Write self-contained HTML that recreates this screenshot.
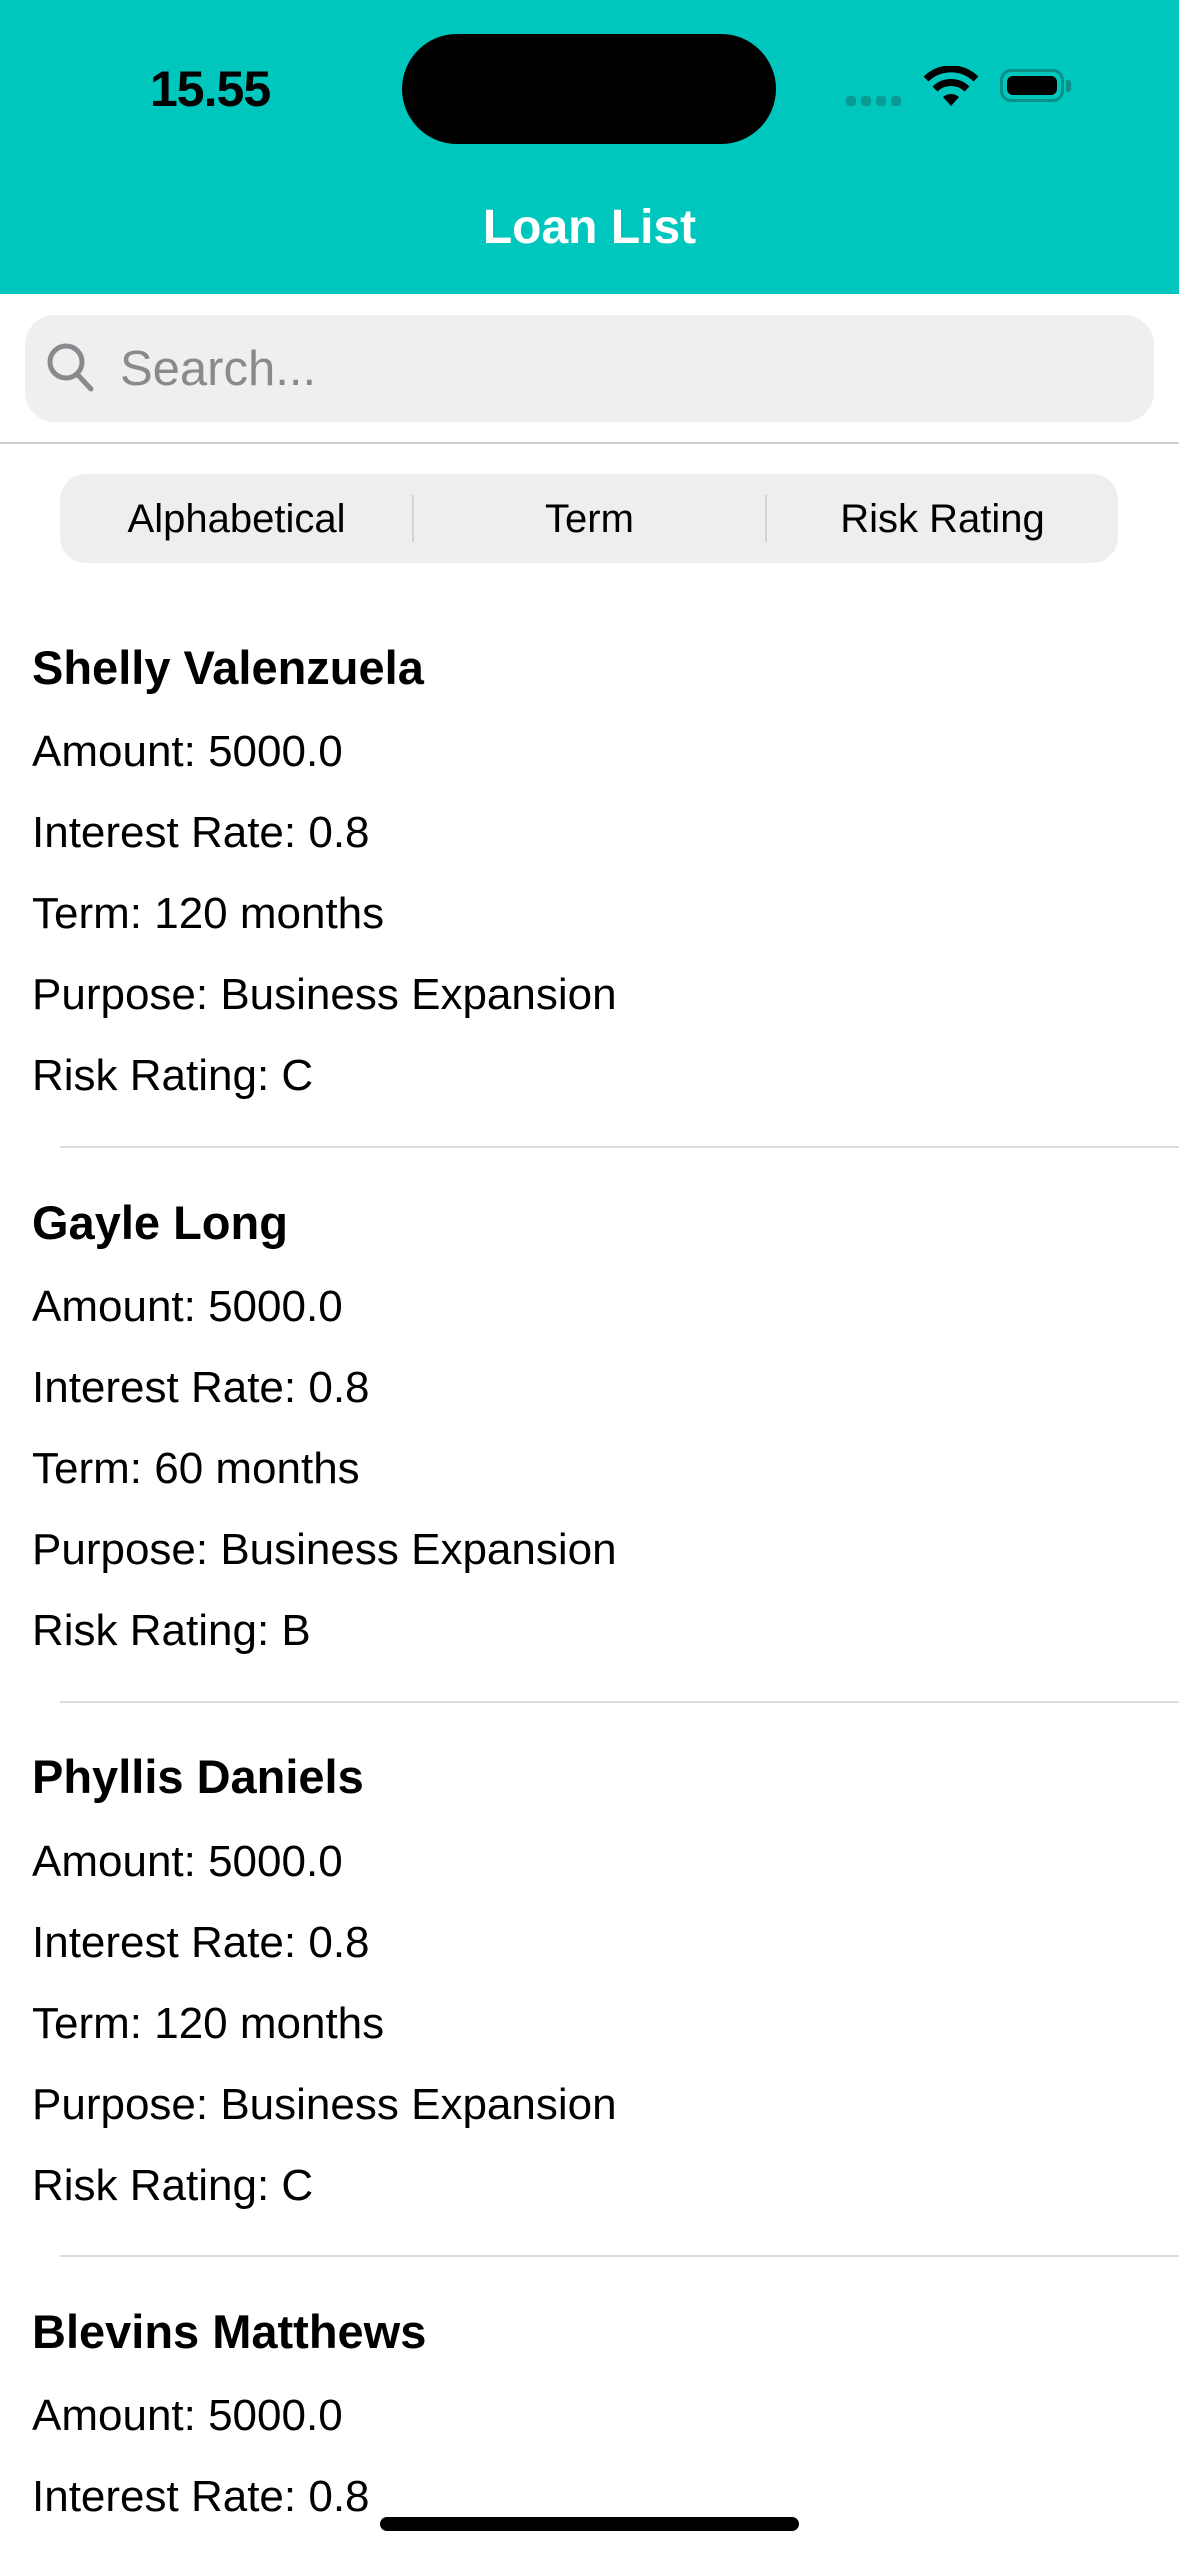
<!DOCTYPE html>
<html style="height:2556px;overflow:hidden;"><head><meta charset="utf-8"><style>
html,body{margin:0;padding:0;}
body{width:1179px;height:2556px;position:relative;overflow:hidden;background:#fff;font-family:"Liberation Sans",sans-serif;color:#000;}
.a{position:absolute;white-space:nowrap;line-height:1;}
</style></head><body>
<div class="a" style="left:0;top:0;width:1179px;height:294px;background:#00C7BE;"></div>
<div class="a" style="left:150px;top:64px;font-size:50px;font-weight:bold;letter-spacing:-1px;">15.55</div>
<div class="a" style="left:402px;top:34px;width:374px;height:110px;border-radius:55px;background:#000;"></div>
<div class="a" style="left:846px;top:96px;">
 <div style="position:absolute;left:0;top:0;width:10px;height:10px;border-radius:3px;background:#0a9b94;"></div>
 <div style="position:absolute;left:15px;top:0;width:10px;height:10px;border-radius:3px;background:#0a9b94;"></div>
 <div style="position:absolute;left:30px;top:0;width:10px;height:10px;border-radius:3px;background:#0a9b94;"></div>
 <div style="position:absolute;left:45px;top:0;width:10px;height:10px;border-radius:3px;background:#0a9b94;"></div>
</div>
<svg class="a" style="left:922px;top:66px;" width="58" height="42" viewBox="0 0 58 42">
 <path d="M29 40 L21 31 A12 12 0 0 1 37 31 Z" fill="#000"/>
 <path d="M13 23 A23 23 0 0 1 45 23" stroke="#000" stroke-width="7" fill="none"/>
 <path d="M4 13 A36 36 0 0 1 54 13" stroke="#000" stroke-width="7" fill="none"/>
</svg>
<div class="a" style="left:1000px;top:69px;width:64px;height:33px;border:3px solid #0a8f89;border-radius:11px;box-sizing:border-box;padding:4px;">
 <div style="width:100%;height:100%;background:#000;border-radius:6px;"></div>
</div>
<div class="a" style="left:1066px;top:80px;width:5px;height:12px;background:#0a8f89;border-radius:0 3px 3px 0;"></div>
<div class="a" style="left:0;width:1179px;text-align:center;top:204px;font-size:48px;font-weight:bold;color:#fff;">Loan List</div>

<div class="a" style="left:25px;top:315px;width:1129px;height:107px;border-radius:30px;background:#EFEFEF;"></div>
<svg class="a" style="left:45px;top:342px;" width="54" height="52" viewBox="0 0 54 52">
 <circle cx="21" cy="20" r="16" stroke="#8a8a8e" stroke-width="5" fill="none"/>
 <line x1="32" y1="32" x2="46" y2="47" stroke="#8a8a8e" stroke-width="5" stroke-linecap="round"/>
</svg>
<div class="a" style="left:120px;top:345px;font-size:49px;color:#8a8a8e;">Search...</div>
<div class="a" style="left:0;top:442px;width:1179px;height:2px;background:#d0d0d0;"></div>

<div class="a" style="left:60px;top:474px;width:1058px;height:89px;border-radius:26px;background:#EEEEEE;"></div>
<div class="a" style="left:412px;top:495px;width:2px;height:47px;background:#d3d3d3;"></div>
<div class="a" style="left:765px;top:495px;width:2px;height:47px;background:#d3d3d3;"></div>
<div class="a" style="left:60px;width:353px;text-align:center;top:499px;font-size:40px;">Alphabetical</div>
<div class="a" style="left:413px;width:353px;text-align:center;top:499px;font-size:40px;">Term</div>
<div class="a" style="left:766px;width:353px;text-align:center;top:499px;font-size:40px;">Risk Rating</div>

<div id="list"></div>
<div class="a" style="left:380px;top:2517px;width:419px;height:14px;border-radius:7px;background:#000;"></div>

<script>
const names = ["Shelly Valenzuela","Gayle Long","Phyllis Daniels","Blevins Matthews"];
const amounts = ["5000.0","5000.0","5000.0","5000.0"];
const rates = ["0.8","0.8","0.8","0.8"];
const terms = [120,60,120,120];
const purposes = ["Business Expansion","Business Expansion","Business Expansion","Business Expansion"];
const risks = ["C","B","C","C"];
const list = document.getElementById('list');
function mk(text, left, centerY, fs, bold, name){
  if (centerY > 2540) { return; }
  const d = document.createElement('div');
  d.className = 'a';
  
  
  d.style.left = left + 'px';
  d.style.top = (centerY - 0.49*fs) + 'px';
  d.style.fontSize = fs + 'px';
  if (bold) { d.style.fontWeight = 'bold'; }
  d.textContent = text;
  list.appendChild(d);
}
for (let i = 0; i < names.length; i++) {
  const y0 = 667 + i*554.6;
  const row = document.createElement('div');
  
  
  list.appendChild(row);
  mk(names[i], 32, y0, 47, true, 'loan-name');
  mk('Amount: ' + amounts[i], 32, y0 + 85, 44, false, 'loan-amount');
  mk('Interest Rate: ' + rates[i], 32, y0 + 166, 44, false, 'loan-interest-rate');
  mk('Term: ' + terms[i] + ' months', 32, y0 + 247, 44, false, 'loan-term');
  mk('Purpose: ' + purposes[i], 32, y0 + 328, 44, false, 'loan-purpose');
  mk('Risk Rating: ' + risks[i], 32, y0 + 409, 44, false, 'loan-risk-rating');
  if (i < names.length - 1) {
    const s = document.createElement('div');
    s.className = 'a';
    
    
    s.style.cssText += 'left:60px;width:1119px;height:2px;background:#dcdcdc;top:' + (1146 + i*554.6) + 'px;';
    list.appendChild(s);
  }
}
</script>
</body></html>
